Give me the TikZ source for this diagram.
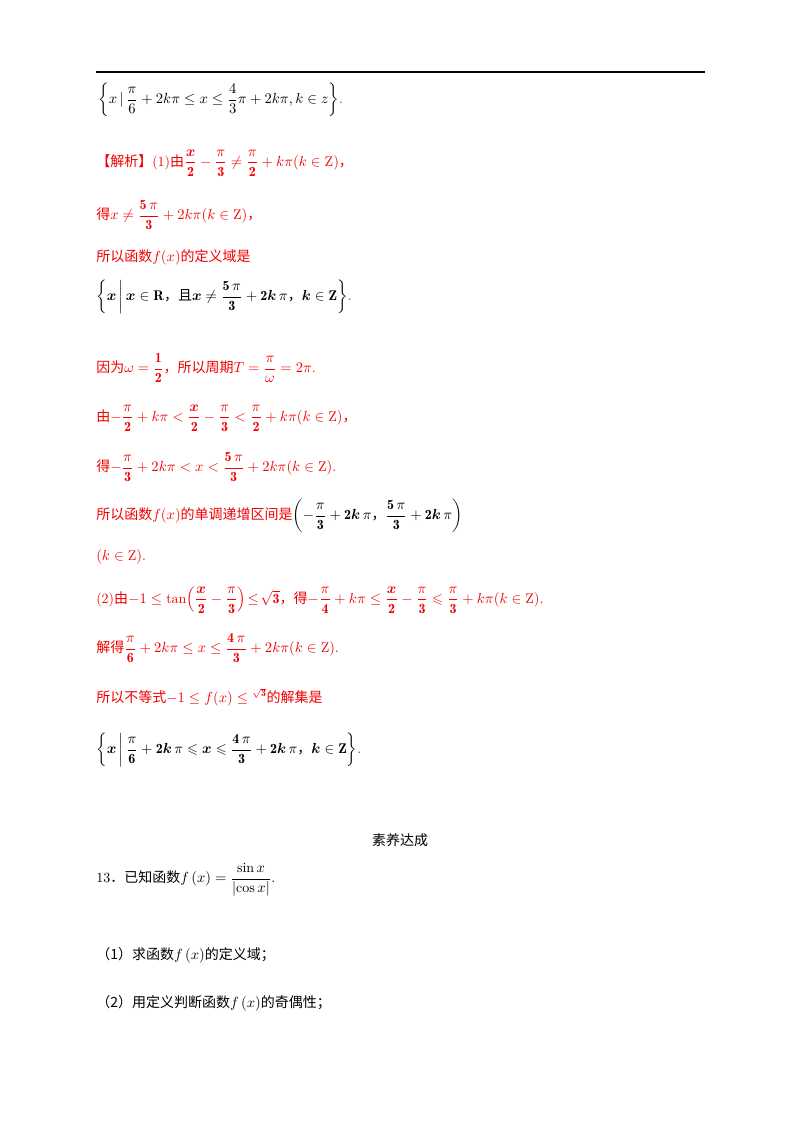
\documentclass[tikz,border=0pt]{standalone}
\usepackage{amsmath,amssymb}
\usepackage{fontspec}
\newfontfamily\cjk{Noto Sans CJK SC}
\definecolor{rd}{RGB}{240,0,0}
\newcommand{\zh}[1]{{\cjk #1}}
\begin{document}
\begin{tikzpicture}[x=0.75pt,y=-0.75pt,
  ln/.style={anchor=west,inner sep=0pt,font=\fontsize{10.5}{12}\selectfont},
  red/.style={ln,text=rd}]
\useasboundingbox (0,0) rectangle (800,1132);
\draw[line width=0.8pt] (96,72) -- (705,72);
\node[ln] (l1) at (98,100) {$\left\{x\,|\,\dfrac{\pi}{6}+2k\pi\le x\le\dfrac{4}{3}\pi+2k\pi,k\in z\right\}$\textcolor{rd}{.}};
\node[red] (l2) at (96,163) {\zh{【解析】}(1)\zh{由}$\dfrac{\boldsymbol{x}}{\mathbf 2}-\dfrac{\pi}{\mathbf 3}\neq\dfrac{\pi}{\mathbf 2}+k\pi(k\in\mathrm Z)$\zh{，}};
\node[red] (l3) at (96,215) {\zh{得}$x\neq\dfrac{\mathbf{5}\,\pi}{\mathbf 3}+2k\pi(k\in\mathrm Z)$\zh{，}};
\node[red] (l4) at (96,257) {\zh{所以函数}$f(x)$\zh{的定义域是}};
\node[red,text=black] (l5) at (96,297) {$\left\{\boldsymbol{x}\,\middle|\,\boldsymbol{x}\in\mathbf R\text{\zh{，且}}\boldsymbol{x}\neq\dfrac{\mathbf 5\,\pi}{\mathbf 3}+\mathbf 2\boldsymbol{k}\,\pi\text{\zh{，}}\boldsymbol{k}\in\mathbf Z\right\}$\textcolor{rd}{.}};
\node[red] (l6) at (96,368) {\zh{因为}$\omega=\dfrac{\mathbf 1}{\mathbf 2}$\zh{，所以周期}$T=\dfrac{\pi}{\omega}=2\pi$.};
\node[red] (l7) at (96,418) {\zh{由}$-\dfrac{\pi}{\mathbf 2}+k\pi<\dfrac{\boldsymbol x}{\mathbf 2}-\dfrac{\pi}{\mathbf 3}<\dfrac{\pi}{\mathbf 2}+k\pi(k\in\mathrm Z)$\zh{，}};
\node[red] (l8) at (96,467) {\zh{得}$-\dfrac{\pi}{\mathbf 3}+2k\pi<x<\dfrac{\mathbf 5\,\pi}{\mathbf 3}+2k\pi(k\in\mathrm Z)$.};
\node[red] (l9) at (96,516) {\zh{所以函数}$f(x)$\zh{的单调递增区间是}{\color{black}$\left(-\dfrac{\pi}{\mathbf 3}+\mathbf 2\boldsymbol k\,\pi\text{\zh{，}}\dfrac{\mathbf 5\,\pi}{\mathbf 3}+\mathbf 2\boldsymbol k\,\pi\right)$}};
\node[red] (l10) at (96,557) {$(k\in\mathrm Z)$.};
\node[red] (l11) at (96,600) {(2)\zh{由}$-1\le\tan\!\left(\dfrac{\boldsymbol x}{\mathbf 2}-\dfrac{\pi}{\mathbf 3}\right)\!\le\!\sqrt{\mathbf 3}$\zh{，得}$-\dfrac{\pi}{\mathbf 4}+k\pi\le\dfrac{\boldsymbol x}{\mathbf 2}-\dfrac{\pi}{\mathbf 3}\leqslant\dfrac{\pi}{\mathbf 3}+k\pi(k\in\mathrm Z)$.};
\node[red] (l12) at (96,648) {\zh{解得}$\dfrac{\pi}{\mathbf 6}+2k\pi\le x\le\dfrac{\mathbf 4\,\pi}{\mathbf 3}+2k\pi(k\in\mathrm Z)$.};
\node[red] (l13) at (96,697) {\zh{所以不等式}$-1\le f(x)\le{}^{\sqrt{\mathbf 3}}$\zh{的解集是}};
\node[red,text=black] (l14) at (96,750) {$\left\{\boldsymbol x\,\middle|\,\dfrac{\pi}{\mathbf 6}+\mathbf 2\boldsymbol k\,\pi\leqslant\boldsymbol x\leqslant\dfrac{\mathbf 4\,\pi}{\mathbf 3}+\mathbf 2\boldsymbol k\,\pi\text{\zh{，}}\boldsymbol k\in\mathbf Z\right\}$\textcolor{rd}{.}};
\node[ln,anchor=center] (t) at (400,840) {\zh{素养达成}};
\node[ln] (q) at (96,880) {13\zh{．已知函数}$f\left(x\right)=\dfrac{\sin x}{\left|\cos x\right|}$.};
\node[ln] (q1) at (96,955) {\zh{（1）求函数}$f\left(x\right)$\zh{的定义域；}};
\node[ln] (q2) at (96,1003) {\zh{（2）用定义判断函数}$f\left(x\right)$\zh{的奇偶性；}};
\end{tikzpicture}
\end{document}
